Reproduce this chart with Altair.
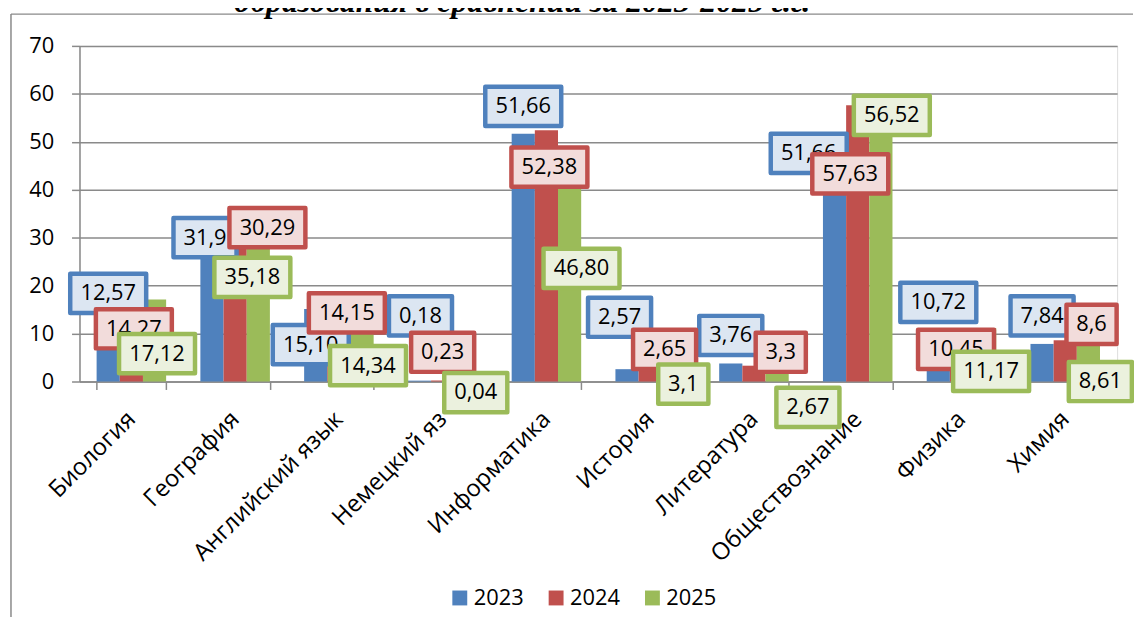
import altair as alt
import pandas as pd

# ---------------- data ----------------
subjects = ["Биология", "География", "Английский язык", "Немецкий яз", "Информатика",
            "История", "Литература", "Обществознание", "Физика", "Химия"]
years = ["2023", "2024", "2025"]

v2023 = [12.57, 31.9, 15.10, 0.18, 51.66, 2.57, 3.76, 51.66, 10.72, 7.84]
v2024 = [14.27, 30.29, 14.15, 0.23, 52.38, 2.65, 3.3, 57.63, 10.45, 8.6]
v2025 = [17.12, 35.18, 14.34, 0.04, 46.80, 3.1, 2.67, 56.52, 11.17, 8.61]

t2023 = ["12,57", "31,9", "15,10", "0,18", "51,66", "2,57", "3,76", "51,66", "10,72", "7,84"]
t2024 = ["14,27", "30,29", "14,15", "0,23", "52,38", "2,65", "3,3", "57,63", "10,45", "8,6"]
t2025 = ["17,12", "35,18", "14,34", "0,04", "46,80", "3,1", "2,67", "56,52", "11,17", "8,61"]

# where the manually-placed data labels sit (axis units)
lp2023 = [18.4, 30.0, 7.7, 13.7, 57.4, 13.4, 9.6, 47.6, 16.5, 13.7]
lp2024 = [11.0, 32.1, 14.3, 6.1, 44.7, 6.7, 6.1, 43.3, 6.7, 11.9]
lp2025 = [5.8, 21.7, 3.3, -2.3, 23.6, -0.55, -5.4, 55.5, 2.1, 0.0]

# horizontal shift of each label from its bar (px)
sh2023 = [0, -7, -5, 1, 0, -7.5, 0, -26, 0, 0]
sh2024 = [2.5, 32.5, 8, 0, 3, 14.5, 27, -7.5, -5.5, 26.5]
sh2025 = [2.5, -6, 6, 10, 12, 10, 31, 11, 6.5, 12]

title_text = "образования в сравнении за 2023-2025 г.г."

# ---------------- style ----------------
BAR_COLORS = ["#4F81BD", "#C0504D", "#9BBB59"]
BOX_FILLS = ["#DCE6F2", "#F2DCDB", "#EBF1DE"]
GRID = "#8a8a8a"
FONT = "Open Sans"
W, H = 1045, 338
PAD_INNER = 0.33
STEP = W / len(subjects)

values = [v2023, v2024, v2025]
texts = [t2023, t2024, t2025]
lpos = [lp2023, lp2024, lp2025]
shifts = [sh2023, sh2024, sh2025]

bar_rows = []
for s, y in enumerate(years):
    for i, subj in enumerate(subjects):
        bar_rows.append({"subject": subj, "year": y, "value": values[s][i]})
bars_df = pd.DataFrame(bar_rows)


def box_path(n):
    outer_w = 16 + 13 * n
    w = (outer_w - 4.5) / 100.0
    h = (44 - 4.5) / 100.0
    return f"M{-w},{-h}H{w}V{h}H{-w}Z"


bars = alt.Chart(bars_df).mark_bar().encode(
    x=alt.X("subject:N", sort=subjects,
            scale=alt.Scale(paddingInner=PAD_INNER, paddingOuter=PAD_INNER / 2),
            axis=alt.Axis(title=None, labelAngle=-45, labelAlign="right",
                          labelBaseline="middle", labelFontSize=24, labelFont=FONT,
                          labelColor="black", labelPadding=26, tickBand="extent",
                          tickSize=8, tickColor=GRID, domainColor=GRID,
                          tickWidth=1.5, domainWidth=1.5, labelLimit=400)),
    xOffset=alt.XOffset("year:N", sort=years),
    y=alt.Y("value:Q", scale=alt.Scale(domain=[0, 70], nice=False, zero=True),
            axis=alt.Axis(title=None, values=list(range(0, 71, 10)), grid=True,
                          gridColor=GRID, gridWidth=1.5, domainColor=GRID,
                          domainWidth=1.5, tickColor=GRID, tickWidth=1.5, tickSize=8,
                          labelFontSize=22, labelFont=FONT, labelColor="black",
                          labelPadding=18)),
    color=alt.Color("year:N", sort=years,
                    scale=alt.Scale(domain=years, range=BAR_COLORS),
                    legend=alt.Legend(title=None, orient="none", direction="horizontal",
                                      legendX=372, legendY=545, symbolType="square",
                                      symbolSize=225, symbolStrokeWidth=0,
                                      labelFontSize=22, labelFont=FONT,
                                      labelColor="black", columnPadding=21,
                                      labelOffset=3, padding=0)),
)

layers = [bars]
for s, y in enumerate(years):
    rows = []
    for i, subj in enumerate(subjects):
        pos = i + 0.5 + (s - 1) * (1 - PAD_INNER) / 3 + shifts[s][i] / STEP
        rows.append({"lx": pos, "ly": lpos[s][i], "txt": texts[s][i],
                     "box": box_path(len(texts[s][i]))})
    df = pd.DataFrame(rows)
    xenc = alt.X("lx:Q", scale=alt.Scale(domain=[0, len(subjects)], nice=False, zero=False),
                 axis=None)
    yenc = alt.Y("ly:Q", scale=alt.Scale(domain=[0, 70], nice=False))
    box = alt.Chart(df).mark_point(
        size=10000, fill=BOX_FILLS[s], stroke=BAR_COLORS[s], strokeWidth=4.5,
        strokeJoin="round", opacity=1, fillOpacity=1, filled=False,
    ).encode(x=xenc, y=yenc, shape=alt.Shape("box:N", scale=None, legend=None))
    txt = alt.Chart(df).mark_text(
        font=FONT, fontSize=22, color="black", align="center", baseline="middle"
    ).encode(x=xenc, y=yenc, text="txt:N")
    layers += [box, txt]

one = pd.DataFrame({"k": [0]})
frame_top = alt.Chart(one).mark_rule(color=GRID, strokeWidth=1.5).encode(
    x=alt.value(-69), x2=alt.value(1061), y=alt.value(-32))
frame_left = alt.Chart(one).mark_rule(color=GRID, strokeWidth=1.5).encode(
    x=alt.value(-69), y=alt.value(-32), y2=alt.value(586))
title = alt.Chart(one).mark_text(
    text=title_text, font="Liberation Serif", fontSize=32, fontStyle="italic",
    fontWeight="bold", align="center", baseline="alphabetic", color="black"
).encode(x=alt.value(446), y=alt.value(-34))

layers += [frame_top, frame_left, title]

chart = alt.layer(*layers).resolve_scale(
    x="independent", shape="independent"
).properties(
    width=W, height=H,
    padding={"left": 72, "top": 36, "right": 17, "bottom": 235},
    autosize=alt.AutoSizeParams(type="none"),
).configure_view(stroke=None).configure(background="white")

chart.save("out.html", embed_options={"renderer": "svg", "actions": False})
